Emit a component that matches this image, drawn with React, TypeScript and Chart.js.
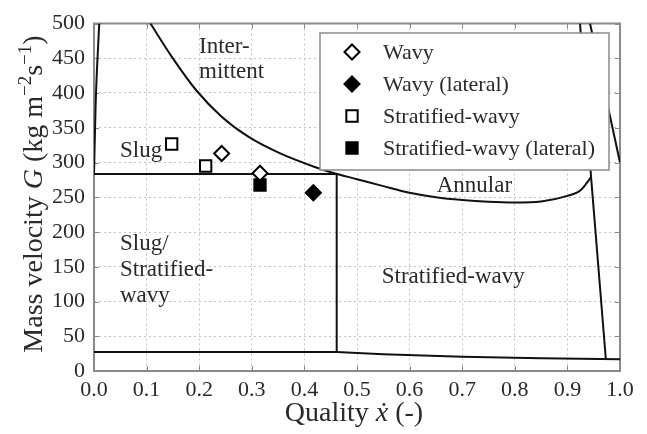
import React, { useEffect, useRef } from 'react';
import { Chart, registerables } from 'chart.js';

Chart.register(...registerables);

// ---------- data ----------
const xTickValues = [0, 0.1, 0.2, 0.3, 0.4, 0.5, 0.6, 0.7, 0.8, 0.9, 1.0];
const yTickValues = [0, 50, 100, 150, 200, 250, 300, 350, 400, 450, 500];

// experimental points
const wavyX = [0.2427, 0.3156];
const wavyG = [313, 284.5];
const wavyLatX = [0.417];
const wavyLatG = [256.5];
const stratWavyX = [0.1477, 0.2123];
const stratWavyG = [326.6, 295];
const stratWavyLatX = [0.3156];
const stratWavyLatG = [267.6];

// flow pattern boundaries
const slugEdgeX = [0.0, 0.003, 0.006, 0.01];
const slugEdgeG = [283.5, 380, 440, 500];
const wavyCurveX = [0.1065, 0.1477, 0.1939, 0.2427, 0.2934, 0.354, 0.417, 0.455, 0.5, 0.55, 0.6, 0.65, 0.7, 0.75, 0.8, 0.85, 0.9, 0.925, 0.945];
const wavyCurveG = [501, 452.3, 404.3, 365.9, 337.1, 313, 294.3, 285, 276, 266, 256.5, 250, 246, 243.5, 242.5, 244, 252, 260, 279];
const slugLineX = [0.0, 0.4614];
const slugLineG = [283.5, 283.5];
const iaLineX = [0.4614, 0.4614];
const iaLineG = [283.5, 27.5];
const stratCurveX = [0.0, 0.4614, 0.55, 0.7, 0.85, 1.0];
const stratCurveG = [27.5, 27.5, 24, 20.5, 18.2, 17];
const dryoutX = [0.924, 0.945, 0.973];
const dryoutG = [500, 279, 18];
const mistX = [0.943, 1.0];
const mistG = [500, 300];

// region labels (data coordinates of text start / baseline)
const regionText = ['Inter-', 'mittent', 'Slug', 'Slug/', 'Stratified-', 'wavy', 'Annular', 'Stratified-wavy'];
const regionX = [0.1996, 0.1996, 0.0494, 0.0494, 0.0494, 0.0494, 0.6515, 0.547];
const regionG = [457.5, 421.6, 308.3, 174.1, 136.7, 99.3, 257.9, 126.2];

const legendLabels = ['Wavy', 'Wavy (lateral)', 'Stratified-wavy', 'Stratified-wavy (lateral)'];

// ---------- helpers ----------
const SERIF = '"Liberation Serif", "DejaVu Serif", serif';
const TEXT = '#2a2a2a';

const pts = (xs: number[], ys: number[]) => xs.map((x, i) => ({ x, y: ys[i] }));

function lineDs(xs: number[], ys: number[], smooth = false) {
  return {
    type: 'scatter' as const,
    data: pts(xs, ys),
    showLine: true,
    borderColor: '#111',
    borderWidth: 2,
    pointRadius: 0,
    pointHoverRadius: 0,
    fill: false,
    cubicInterpolationMode: smooth ? ('monotone' as const) : ('default' as const),
    tension: 0,
  };
}

function markerDs(label: string, xs: number[], ys: number[], style: string, filled: boolean) {
  const isDiamond = style === 'rectRot';
  return {
    type: 'scatter' as const,
    label,
    data: pts(xs, ys),
    showLine: false,
    pointStyle: style,
    pointRadius: isDiamond ? 7.5 : 8,
    pointHoverRadius: isDiamond ? 7.5 : 8,
    pointBackgroundColor: filled ? '#000' : '#fff',
    pointBorderColor: '#000',
    pointBorderWidth: 2,
  };
}

function drawMarker(ctx: CanvasRenderingContext2D, style: string, filled: boolean, x: number, y: number) {
  ctx.save();
  ctx.beginPath();
  if (style === 'rectRot') {
    const r = 7.5;
    ctx.moveTo(x - r, y);
    ctx.lineTo(x, y - r);
    ctx.lineTo(x + r, y);
    ctx.lineTo(x, y + r);
    ctx.closePath();
  } else {
    const s = 8 * Math.SQRT1_2;
    ctx.rect(x - s, y - s, 2 * s, 2 * s);
  }
  ctx.fillStyle = filled ? '#000' : '#fff';
  ctx.fill();
  ctx.lineWidth = 2;
  ctx.strokeStyle = '#000';
  ctx.stroke();
  ctx.restore();
}

type Run = { t: string; f: string; dy?: number };

function runsWidth(ctx: CanvasRenderingContext2D, runs: Run[]) {
  let w = 0;
  for (const r of runs) {
    ctx.font = r.f;
    w += ctx.measureText(r.t).width;
  }
  return w;
}

function drawRuns(ctx: CanvasRenderingContext2D, runs: Run[], x: number, y: number) {
  let cx = x;
  for (const r of runs) {
    ctx.font = r.f;
    ctx.fillText(r.t, cx, y + (r.dy || 0));
    cx += ctx.measureText(r.t).width;
  }
}

const decorPlugin = {
  id: 'decor',
  beforeDatasetsDraw(chart: any) {
    const { ctx, chartArea: ca, scales } = chart;
    const xs = scales.x;
    const ys = scales.y;
    ctx.save();
    // inward tick marks
    ctx.strokeStyle = '#888';
    ctx.lineWidth = 1;
    ctx.beginPath();
    for (const v of xTickValues) {
      const px = Math.round(xs.getPixelForValue(v)) + 0.5;
      ctx.moveTo(px, ca.bottom);
      ctx.lineTo(px, ca.bottom - 5);
      ctx.moveTo(px, ca.top);
      ctx.lineTo(px, ca.top + 5);
    }
    for (const v of yTickValues) {
      const py = Math.round(ys.getPixelForValue(v)) + 0.5;
      ctx.moveTo(ca.left, py);
      ctx.lineTo(ca.left + 5, py);
      ctx.moveTo(ca.right, py);
      ctx.lineTo(ca.right - 5, py);
    }
    ctx.stroke();
    // frame
    ctx.strokeStyle = '#8a8a8a';
    ctx.lineWidth = 2;
    ctx.strokeRect(ca.left, ca.top, ca.right - ca.left, ca.bottom - ca.top);
    // region labels
    ctx.fillStyle = TEXT;
    ctx.font = `23px ${SERIF}`;
    ctx.textAlign = 'left';
    ctx.textBaseline = 'alphabetic';
    regionText.forEach((t, i) => {
      ctx.fillText(t, xs.getPixelForValue(regionX[i]), ys.getPixelForValue(regionG[i]));
    });
    ctx.restore();
  },
  afterDatasetsDraw(chart: any) {
    const { ctx, chartArea: ca } = chart;
    ctx.save();
    // legend
    const bx = ca.left + 226;
    const by = ca.top + 9.5;
    const bw = 289;
    const bh = 137;
    ctx.fillStyle = '#fff';
    ctx.fillRect(bx, by, bw, bh);
    ctx.strokeStyle = '#8a8a8a';
    ctx.lineWidth = 1.5;
    ctx.strokeRect(bx, by, bw, bh);
    const styles = ['rectRot', 'rectRot', 'rect', 'rect'];
    const filled = [false, true, false, true];
    ctx.font = `22px ${SERIF}`;
    ctx.textAlign = 'left';
    ctx.textBaseline = 'middle';
    legendLabels.forEach((lab, i) => {
      const ry = by + 19 + i * 32;
      drawMarker(ctx, styles[i], filled[i], bx + 32, ry);
      ctx.fillStyle = TEXT;
      ctx.font = `22px ${SERIF}`;
      ctx.fillText(lab, bx + 63, ry + 1);
    });

    // axis titles
    ctx.fillStyle = TEXT;
    ctx.textAlign = 'left';
    ctx.textBaseline = 'alphabetic';
    const F = `28px ${SERIF}`;
    const FI = `italic 28px ${SERIF}`;
    const FS = `19px ${SERIF}`;
    const xRuns: Run[] = [
      { t: 'Quality ', f: F },
      { t: '\u1E8B', f: FI },
      { t: ' (-)', f: F },
    ];
    const xw = runsWidth(ctx, xRuns);
    const xc = (ca.left + ca.right) / 2 - 3;
    drawRuns(ctx, xRuns, xc - xw / 2, 421);

    const yRuns: Run[] = [
      { t: 'Mass velocity ', f: F },
      { t: 'G', f: FI },
      { t: ' (kg m', f: F },
      { t: '\u22122', f: FS, dy: -11 },
      { t: 's', f: F },
      { t: '\u22121', f: FS, dy: -11 },
      { t: ')', f: F },
    ];
    const yw = runsWidth(ctx, yRuns);
    const yc = 194;
    ctx.translate(42, yc);
    ctx.rotate(-Math.PI / 2);
    drawRuns(ctx, yRuns, -yw / 2, 0);
    ctx.restore();
  },
};

export default function App() {
  const ref = useRef<HTMLCanvasElement | null>(null);

  useEffect(() => {
    if (!ref.current) return;
    const chart = new Chart(ref.current, {
      type: 'scatter',
      data: {
        datasets: [
          markerDs(legendLabels[0], wavyX, wavyG, 'rectRot', false),
          markerDs(legendLabels[1], wavyLatX, wavyLatG, 'rectRot', true),
          markerDs(legendLabels[2], stratWavyX, stratWavyG, 'rect', false),
          markerDs(legendLabels[3], stratWavyLatX, stratWavyLatG, 'rect', true),
          lineDs(slugEdgeX, slugEdgeG, true),
          lineDs(wavyCurveX, wavyCurveG, true),
          lineDs(slugLineX, slugLineG),
          lineDs(iaLineX, iaLineG),
          lineDs(stratCurveX, stratCurveG),
          lineDs(dryoutX, dryoutG),
          lineDs(mistX, mistG),
        ] as any,
      },
      options: {
        animation: false,
        responsive: false,
        devicePixelRatio: 1,
        events: [],
        layout: { padding: { left: 0, top: 23.5, right: 27, bottom: 0 } },
        plugins: {
          legend: { display: false },
          tooltip: { enabled: false },
          title: { display: false },
        },
        scales: {
          x: {
            type: 'linear',
            min: 0,
            max: 1,
            afterFit: (s: any) => {
              s.height = 63;
            },
            afterBuildTicks: (s: any) => {
              s.ticks = xTickValues.map((v) => ({ value: v }));
            },
            ticks: {
              padding: 6,
              color: TEXT,
              font: { family: SERIF, size: 22 },
              maxRotation: 0,
              autoSkip: false,
              callback: (v: any) => Number(v).toFixed(1),
            },
            grid: { color: '#c4c4c4', lineWidth: 1, drawTicks: false },
            border: { display: false, dash: [2, 3] },
          },
          y: {
            type: 'linear',
            min: 0,
            max: 500,
            afterFit: (s: any) => {
              s.width = 94;
            },
            afterBuildTicks: (s: any) => {
              s.ticks = yTickValues.map((v) => ({ value: v }));
            },
            ticks: {
              padding: 9,
              color: TEXT,
              font: { family: SERIF, size: 22 },
              autoSkip: false,
              callback: (v: any) => String(v),
            },
            grid: { color: '#c4c4c4', lineWidth: 1, drawTicks: false },
            border: { display: false, dash: [2, 3] },
          },
        },
      } as any,
      plugins: [decorPlugin],
    });
    return () => chart.destroy();
  }, []);

  return (
    <div style={{ position: 'absolute', left: 0, top: 0, width: 647, height: 434, background: '#fff' }}>
      <canvas ref={ref} width={647} height={434} style={{ display: 'block', width: 647, height: 434 }} />
    </div>
  );
}
